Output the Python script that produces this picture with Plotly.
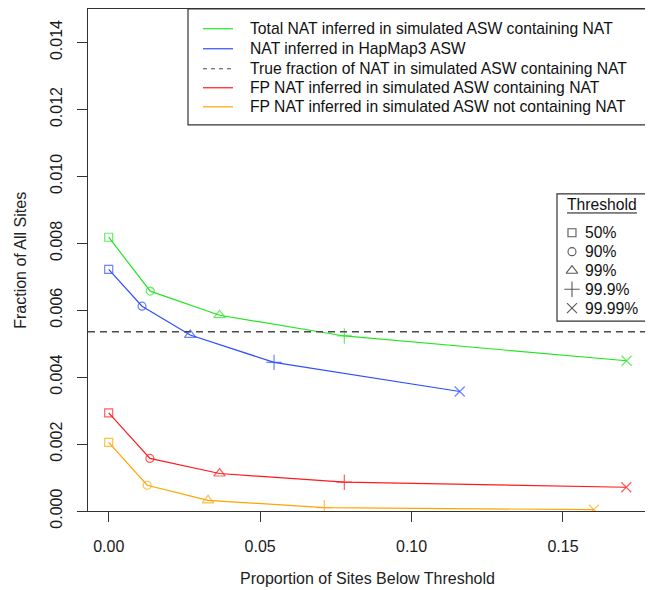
import plotly.graph_objects as go

# ---- data ----
thresholds = ["50%", "90%", "99%", "99.9%", "99.99%"]
series_names = [
    "Total NAT inferred in simulated ASW containing NAT",
    "NAT inferred in HapMap3 ASW",
    "True fraction of NAT in simulated ASW containing NAT",
    "FP NAT inferred in simulated ASW containing NAT",
    "FP NAT inferred in simulated ASW not containing NAT",
]
total_x = [0.0, 0.0137, 0.0366, 0.0778, 0.1710]
total_y = [0.00818, 0.00657, 0.00585, 0.00523, 0.00449]
hapmap_x = [0.0, 0.0110, 0.0269, 0.0546, 0.1159]
hapmap_y = [0.00722, 0.00612, 0.00526, 0.00444, 0.00357]
fp_cont_x = [0.0, 0.0136, 0.0366, 0.0778, 0.1709]
fp_cont_y = [0.00293, 0.00157, 0.00112, 0.00086, 0.00071]
fp_notcont_x = [0.0, 0.0127, 0.0328, 0.0712, 0.1602]
fp_notcont_y = [0.00205, 0.00077, 0.00032, 0.00010, 0.00004]
true_fraction = 0.005354

x_ticks = [0.00, 0.05, 0.10, 0.15]
x_ticklabels = ["0.00", "0.05", "0.10", "0.15"]
y_ticks = [0.000, 0.002, 0.004, 0.006, 0.008, 0.010, 0.012, 0.014]
y_ticklabels = ["0.000", "0.002", "0.004", "0.006", "0.008", "0.010", "0.012", "0.014"]
x_title = "Proportion of Sites Below Threshold"
y_title = "Fraction of All Sites"

# ---- style ----
FONT = "Liberation Sans, Arial, sans-serif"
FS = 16
LFS = 15.7
colors = ["#22e622", "#2f4dff", "#4a4a4a", "#ff1a1a", "#ffa500"]
symbols = ["square-open", "circle-open", "triangle-up-open", "cross-thin-open", "x-thin-open"]
sizes = [8, 8, 10, 11, 10]

fig = go.Figure()

def add_series(xs, ys, color):
    fig.add_trace(go.Scatter(
        x=xs, y=ys, mode="lines+markers",
        line=dict(color=color, width=1.2),
        marker=dict(symbol=symbols, size=sizes, color=color,
                    line=dict(color=color, width=1.2)),
        showlegend=False, hoverinfo="skip"))

add_series(total_x, total_y, colors[0])
add_series(hapmap_x, hapmap_y, colors[1])
add_series(fp_cont_x, fp_cont_y, colors[3])
add_series(fp_notcont_x, fp_notcont_y, colors[4])

# true fraction dashed horizontal line across plot
fig.add_shape(type="line", xref="paper", yref="y", x0=0, x1=1,
              y0=true_fraction, y1=true_fraction,
              line=dict(color="#4a4a4a", width=1.6, dash="7px,5px"))

# ---- main legend (box + samples + text) ----
lg_x0, lg_x1, lg_y0, lg_y1 = 0.1789, 1.0, 0.7692, 1.0
fig.add_shape(type="rect", xref="paper", yref="paper", x0=lg_x0, x1=lg_x1,
              y0=lg_y0, y1=lg_y1, line=dict(color="#333333", width=1.2),
              fillcolor="white", layer="below")
rows = [0.9607, 0.9208, 0.8810, 0.8431, 0.8052]
for name, col, ry in zip(series_names, colors, rows):
    dash = "4px,4px" if col == "#4a4a4a" else "solid"
    fig.add_shape(type="line", xref="paper", yref="paper", x0=0.2057, x1=0.2594,
                  y0=ry, y1=ry, line=dict(color=col, width=1.2, dash=dash))
    fig.add_annotation(xref="paper", yref="paper", x=0.2862, y=ry, text=name,
                       showarrow=False, xanchor="left", yanchor="middle",
                       font=dict(family=FONT, size=LFS, color="#111111"))

# ---- threshold legend ----
tb_x0, tb_x1, tb_y0, tb_y1 = 0.839, 1.0, 0.3783, 0.6316
fig.add_shape(type="rect", xref="paper", yref="paper", x0=tb_x0, x1=tb_x1,
              y0=tb_y0, y1=tb_y1, line=dict(color="#333333", width=1.2),
              fillcolor="white", layer="below")
fig.add_annotation(xref="paper", yref="paper", x=0.9195, y=0.6097, text="Threshold",
                   showarrow=False, xanchor="center", yanchor="middle",
                   font=dict(family=FONT, size=LFS, color="#111111"))
fig.add_shape(type="line", xref="paper", yref="paper", x0=0.8569, x1=0.9821,
              y0=0.5937, y1=0.5937, line=dict(color="#111111", width=1))
trows = [0.5544, 0.5166, 0.4787, 0.4416, 0.4043]
fig.add_trace(go.Scatter(
    x=[0.8658] * len(thresholds), y=trows, mode="markers",
    marker=dict(symbol=symbols, size=[8, 8, 10, 11, 10], color="#111111",
                line=dict(color="#111111", width=1.1)),
    xaxis="x2", yaxis="y2", showlegend=False, hoverinfo="skip"))
for lab, ry in zip(thresholds, trows):
    fig.add_annotation(xref="paper", yref="paper", x=0.8855, y=ry, text=lab,
                       showarrow=False, xanchor="left", yanchor="middle",
                       font=dict(family=FONT, size=LFS, color="#111111"))

# axis titles as annotations for precise placement
fig.add_annotation(xref="paper", yref="paper", x=0.5, y=-0.134, text=x_title,
                   showarrow=False, xanchor="center", yanchor="middle",
                   font=dict(family=FONT, size=FS, color="#222222"))
fig.add_annotation(xref="paper", yref="paper", x=-0.122, y=0.5, text=y_title,
                   showarrow=False, xanchor="center", yanchor="middle", textangle=-90,
                   font=dict(family=FONT, size=FS, color="#222222"))

# the page body adds an 8px offset; size the figure to fit the 653x590 window
fig.update_layout(
    width=645, height=582,
    margin=dict(l=80, r=6, t=1, b=79, autoexpand=False),
    paper_bgcolor="white", plot_bgcolor="white",
    font=dict(family=FONT, size=FS, color="#222222"),
    xaxis=dict(range=[-0.00684, 0.17774], tickvals=x_ticks, ticktext=x_ticklabels,
               showgrid=False, zeroline=False, showline=True, mirror=True,
               linecolor="#333333", linewidth=1.2, ticks="outside", ticklen=10,
               tickcolor="#333333", tickwidth=1.2, automargin=False,
               ticklabelstandoff=11,
               tickfont=dict(family=FONT, size=FS, color="#1a1a1a")),
    yaxis=dict(range=[0, 0.015], tickvals=y_ticks, ticktext=y_ticklabels,
               showgrid=False, zeroline=False, showline=True, mirror=True,
               linecolor="#333333", linewidth=1.2, ticks="outside", ticklen=10,
               tickcolor="#333333", tickwidth=1.2, tickangle=-90, automargin=False,
               ticklabelstandoff=9,
               tickfont=dict(family=FONT, size=FS, color="#1a1a1a")),
    xaxis2=dict(range=[0, 1], overlaying="x", visible=False, fixedrange=True),
    yaxis2=dict(range=[0, 1], overlaying="y", visible=False, fixedrange=True),
)

fig.write_html("out.html")
